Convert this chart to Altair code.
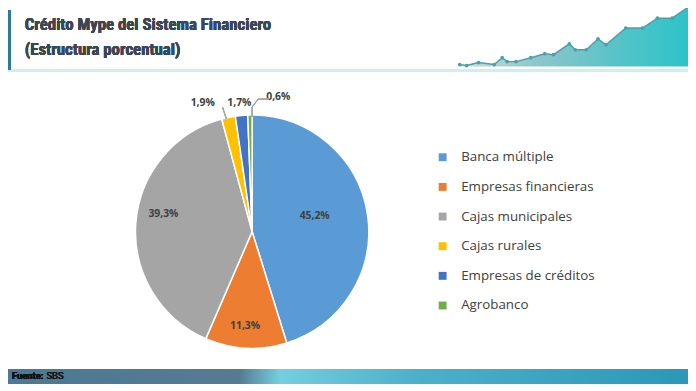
import altair as alt
import pandas as pd

# ---- data ----
categories = ["Banca múltiple", "Empresas financieras", "Cajas municipales",
              "Cajas rurales", "Empresas de créditos", "Agrobanco"]
shares = [45.2, 11.3, 39.3, 1.9, 1.7, 0.6]
colors = ["#5B9BD5", "#ED7D31", "#A5A5A5", "#FFC000", "#4472C4", "#70AD47"]

# decorative header sparkline (x in page px, heights in px)
decor_x = [465, 472, 484, 500, 508, 513, 522, 537, 551, 560, 576, 582, 593, 605, 613, 633, 650, 665, 680, 696]
decor_h = [2, 1, 4, 2, 9, 5, 5, 9, 13, 12, 23, 17, 17, 28, 22, 39, 39, 49, 49, 60]

title_lines = ["Crédito Mype del Sistema Financiero", "(Estructura porcentual)"]

df = pd.DataFrame({
    "cat": categories,
    "value": shares,
    "idx": list(range(len(categories))),
    "label": [f"{v:.1f}%".replace(".", ",") for v in shares],
})
decor = pd.DataFrame({"x": decor_x, "h": decor_h})

W, H = 688, 383
CX, CY, R = 247, 224, 118
FONT = "Open Sans"

theta_scale = alt.Scale(domain=[0, 100])
color_scale = alt.Scale(domain=categories, range=colors)

base = alt.Chart(df)

pie = base.mark_arc(outerRadius=R, stroke="white", strokeWidth=1.5).encode(
    theta=alt.Theta("value:Q", stack=True, scale=theta_scale),
    color=alt.Color("cat:N", scale=color_scale, sort=categories,
                    legend=alt.Legend(title=None, orient="none", legendX=433, legendY=142,
                                      symbolType="square", symbolSize=64, symbolStrokeWidth=0,
                                      labelFont=FONT, labelFontSize=13.5, labelColor="#404040",
                                      labelOffset=12, rowPadding=15, padding=0)),
    order=alt.Order("idx:Q"),
    x=alt.value(CX), y=alt.value(CY),
)

lab_base = base.transform_window(
    cum="sum(value)", sort=[alt.SortField("idx")], frame=[None, 0]
).transform_calculate(mid="datum.cum - datum.value / 2")

label_specs = [  # idx, radius, dx, dy
    (0, 64, 0, -6),
    (1, 96, -2, 0),
    (2, 90, 0, -11),
    (3, 133, -23, 0),
    (4, 131, -1, 0),
    (5, 135, 29, -1),
]
label_layers = []
for i, r, dx, dy in label_specs:
    label_layers.append(
        lab_base.transform_filter(alt.datum.idx == i).mark_text(
            radius=r, dx=dx, dy=dy, font=FONT, fontSize=10.5, fontWeight="bold",
            color="#404040", align="center", baseline="middle"
        ).encode(
            theta=alt.Theta("mid:Q", stack=None, scale=theta_scale),
            text="label:N",
            x=alt.value(CX), y=alt.value(CY),
        )
    )

# leader lines
lead = []
for (x1, y1, x2, y2) in [(217, 98, 221, 110), (264, 90, 253, 90), (253, 90, 247, 98), (247, 98, 247, 108)]:
    lead.append(base.mark_rule(color="#A6A6A6", strokeWidth=0.8).encode(
        x=alt.value(x1), y=alt.value(y1), x2=alt.value(x2), y2=alt.value(y2)))

# header decorations
bar = base.mark_rect(color="#2b7d8e").encode(x=alt.value(0), x2=alt.value(3), y=alt.value(0), y2=alt.value(60))
header_line = base.mark_rule(strokeWidth=2, color=alt.LinearGradient(
    gradient="linear", x1=0, x2=1, y1=0, y2=0,
    stops=[alt.GradientStop(offset=0, color="#4d5560"),
           alt.GradientStop(offset=0.55, color="#7a5f66"),
           alt.GradientStop(offset=1, color="#6a7a84")])).encode(
    x=alt.value(0), x2=alt.value(458), y=alt.value(56))
cyan_line = base.mark_rule(strokeWidth=2, color="#cdeef3").encode(
    x=alt.value(0), x2=alt.value(W), y=alt.value(61))

xs = alt.Scale(domain=[0, 696], range=[-8, 688])
ys = alt.Scale(domain=[0, 57], range=[57, 0])
dec = alt.Chart(decor)
area = dec.mark_area(opacity=1, color=alt.LinearGradient(
    gradient="linear", x1=0, x2=1, y1=0, y2=0,
    stops=[alt.GradientStop(offset=0, color="#c9dde0"),
           alt.GradientStop(offset=0.35, color="#8cc6cb"),
           alt.GradientStop(offset=0.7, color="#55c3c8"),
           alt.GradientStop(offset=1, color="#2cc3c9")])).encode(
    x=alt.X("x:Q", scale=xs, axis=None), y=alt.Y("h:Q", scale=ys, axis=None), y2=alt.datum(0))
dline = dec.mark_line(color="#4f9fab", strokeWidth=1.5, point=alt.OverlayMarkDef(color="#4f9fab", size=14)).encode(
    x=alt.X("x:Q", scale=xs, axis=None), y=alt.Y("h:Q", scale=ys, axis=None))

titles = []
for k, t in enumerate(title_lines):
    titles.append(base.mark_text(text=t, font="Liberation Sans Narrow, Roboto Condensed, Roboto",
                                 fontSize=17, fontWeight="bold", color="#3b4656",
                                 align="left", baseline="alphabetic").encode(
        x=alt.value(17), y=alt.value(20 + 25 * k)))

footer_band = base.mark_rect(color=alt.LinearGradient(
    gradient="linear", x1=0, x2=1, y1=0, y2=0,
    stops=[alt.GradientStop(offset=0, color="#4b7a94"),
           alt.GradientStop(offset=0.34, color="#557b92"),
           alt.GradientStop(offset=0.40, color="#74cedd"),
           alt.GradientStop(offset=0.6, color="#4cb0ca"),
           alt.GradientStop(offset=1, color="#2b97b9")])).encode(
    x=alt.value(0), x2=alt.value(W), y=alt.value(363), y2=alt.value(378))
fuente = base.mark_text(text="Fuente:", font="Roboto", fontSize=9.5, fontWeight="bold",
                        color="#111111", align="left", baseline="middle").encode(
    x=alt.value(4), y=alt.value(370))
sbs = base.mark_text(text="SBS", font="Liberation Sans Narrow, Roboto", fontSize=9.5, color="#1a1a1a",
                     align="left", baseline="middle").encode(x=alt.value(39), y=alt.value(370))

chart = alt.layer(
    area, dline, header_line, cyan_line, bar, *titles,
    pie, *label_layers, *lead, footer_band, fuente, sbs
).properties(
    width=W, height=H, padding=0, autosize=alt.AutoSizeParams(type="none"), background="white"
).configure_view(stroke=None)

chart.save("out.html", embed_options={"renderer": "svg", "actions": False})
